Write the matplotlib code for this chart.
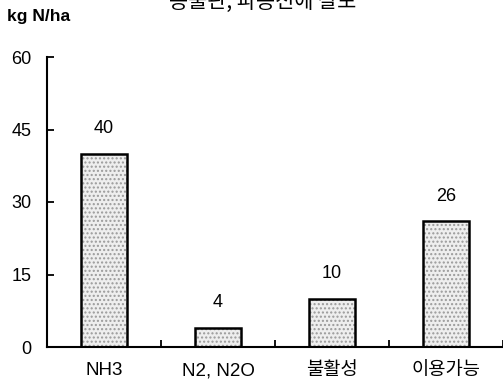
import matplotlib.pyplot as plt
import numpy as np

plt.rcParams['font.family'] = ['Liberation Sans', 'Noto Sans CJK KR', 'DejaVu Sans']

categories = ['NH3', 'N2, N2O', '불활성', '이용가능']
values = [40, 4, 10, 26]
yticks = [0, 15, 30, 45, 60]

fig = plt.figure(figsize=(5.03, 3.87), dpi=100)
ax = fig.add_axes([47 / 503, 1 - 347 / 387, 1 - 47 / 503, 290 / 387])

x = np.arange(len(categories))
# stippled grey fill, then a black outline on top
ax.bar(x, values, width=0.41, color='#eeeeee', edgecolor='#9a9a9a',
       hatch='....', linewidth=0, zorder=2)
ax.bar(x, values, width=0.41, facecolor='none', edgecolor='black',
       linewidth=1.8, zorder=3)

for xi, v in zip(x, values):
    ax.annotate(str(v), (xi, v), xytext=(0, 18), textcoords='offset points',
                ha='center', va='center', fontsize=13)

ax.set_xlim(-0.5, 3.5)
ax.set_ylim(0, 60)
ax.set_yticks(yticks)
ax.set_xticks(x)
ax.set_xticklabels(categories, fontsize=13.5)
ax.set_xticks(x + 0.5, minor=True)
ax.tick_params(axis='x', which='major', length=0, pad=11)
ax.tick_params(axis='x', which='minor', direction='in', length=5, width=1.3)
ax.tick_params(axis='y', direction='in', length=5, width=1.3, pad=11, labelsize=13)

for s in ['top', 'right']:
    ax.spines[s].set_visible(False)
for s in ['left', 'bottom']:
    ax.spines[s].set_linewidth(1.5)

fig.text(7 / 503, 1 - 17 / 387, 'kg N/ha', fontsize=12.5, fontweight='bold',
         ha='left', va='center')
fig.text(263 / 503, 1 - 2 / 387, '봉출판, 파종전에 살포', fontsize=15,
         ha='center', va='center', family=['Noto Sans CJK KR', 'DejaVu Sans'])

fig.savefig('out.png', dpi=100)
